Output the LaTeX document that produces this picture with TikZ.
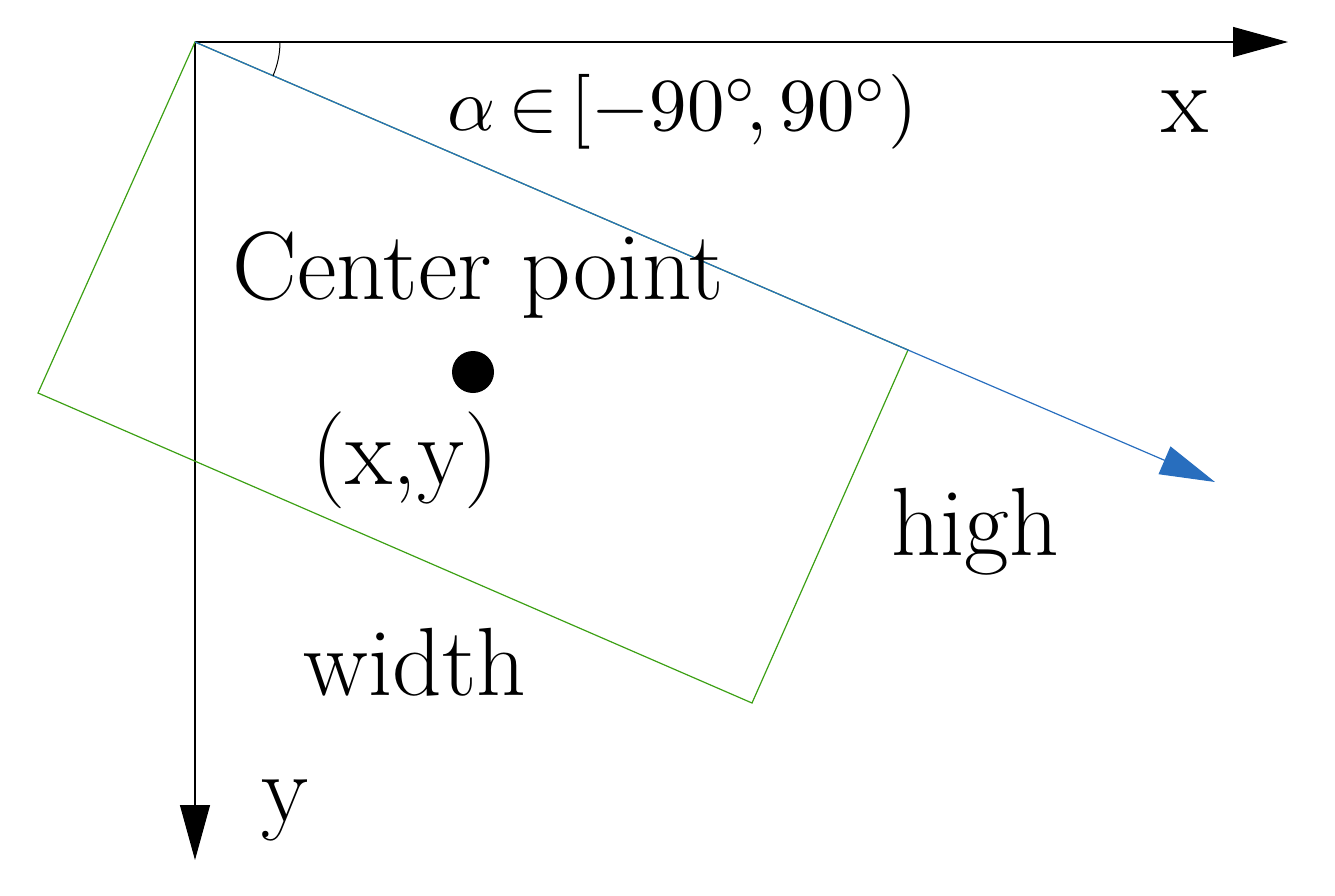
\documentclass[tikz,border=0pt]{standalone}
\usetikzlibrary{arrows.meta,calc}
\definecolor{gr}{RGB}{60,160,20}
\definecolor{bl}{RGB}{40,110,190}
\tikzset{lbl/.style={font=\fontsize{97}{110}\selectfont}, ax/.style={line width=1.2pt,-{Triangle[length=55pt,width=30pt]}}}
\begin{document}
\begin{tikzpicture}[x=1pt,y=-1pt]
\useasboundingbox (0,0) rectangle (1335,895);
\coordinate (O) at (195,42);
\coordinate (X) at (1288,42);
\coordinate (Y) at (195,860);
\coordinate (A) at (908,350);
\coordinate (B) at (752,703);
\coordinate (C) at (38,393);
\coordinate (H) at (1215,482);
\draw[ax] (O) -- (X);
\draw[ax] (O) -- (Y);
\draw[gr,line width=1.2pt] (O) -- (A) -- (B) -- (C) -- cycle;
\draw[bl,line width=1.2pt,-{Triangle[length=55pt,width=30pt]}] (A) -- (H);
\draw[bl,line width=1.2pt] (O) -- (A);
\draw[line width=1pt] ($(O)+(85,0)$) arc[start angle=0,end angle=23.4,radius=85];
\fill (473,372) circle (21);
\node (t1) at (683,112) {\resizebox{470pt}{!}{$\alpha\,{\in}\,[-90^{\circ}\!,90^{\circ})$}};
\node[lbl] (t2) at (1185,112) {x};
\node[lbl] (t3) at (478,275) {Center point};
\node[lbl] (t4) at (405,460) {(x,y)};
\node[lbl] (t5) at (975,532) {high};
\node[lbl] (t6) at (415,662) {width};
\node[lbl] (t7) at (285,810) {y};
\end{tikzpicture}
\end{document}
